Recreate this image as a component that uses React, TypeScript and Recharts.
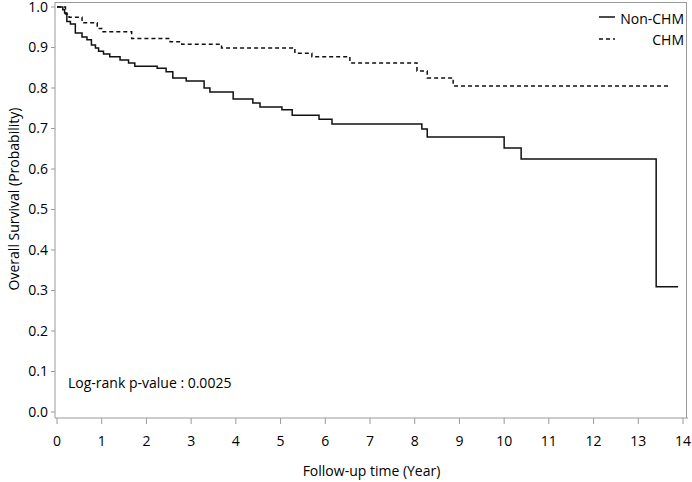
import { LineChart, Line, XAxis, YAxis, Label } from "recharts";

const nonChmTimes = [0, 0.13, 0.17, 0.22, 0.3, 0.41, 0.56, 0.67, 0.77, 0.86, 0.93, 1.04, 1.18, 1.41, 1.6, 1.74, 2.24, 2.44, 2.59, 2.89, 3.29, 3.42, 3.94, 4.38, 4.54, 5.03, 5.26, 5.86, 6.15, 8.16, 8.28, 10.0, 10.38, 13.4, 13.89];
const nonChmSurvival = [1.0, 0.993, 0.985, 0.964, 0.958, 0.936, 0.926, 0.919, 0.906, 0.899, 0.891, 0.884, 0.877, 0.869, 0.862, 0.854, 0.849, 0.84, 0.825, 0.817, 0.8, 0.79, 0.773, 0.763, 0.753, 0.746, 0.733, 0.723, 0.711, 0.699, 0.679, 0.652, 0.625, 0.309, 0.309];

const chmTimes = [0, 0.19, 0.27, 0.56, 0.9, 1.0, 1.67, 2.53, 2.79, 3.68, 5.32, 5.7, 6.55, 8.05, 8.28, 8.86, 13.71];
const chmSurvival = [1.0, 0.983, 0.975, 0.961, 0.947, 0.939, 0.922, 0.914, 0.908, 0.899, 0.886, 0.877, 0.862, 0.842, 0.825, 0.805, 0.805];

const xTicks = [0, 1, 2, 3, 4, 5, 6, 7, 8, 9, 10, 11, 12, 13, 14];
const yTicks = [0, 0.1, 0.2, 0.3, 0.4, 0.5, 0.6, 0.7, 0.8, 0.9, 1.0];

const nonChm = nonChmTimes.map((t, i) => ({ t, s: nonChmSurvival[i] }));
const chm = chmTimes.map((t, i) => ({ t, s: chmSurvival[i] }));

const font = "'Open Sans', sans-serif";
const frame = "#9a9a9a";
const fs = 14;

export default function App() {
  return (
    <div style={{ position: "absolute", left: 0, top: 0, width: 692, height: 482, fontFamily: font }}>
      {/* top and right edges of the plot frame */}
      <div
        style={{
          position: "absolute",
          left: 55,
          top: 2,
          width: 632,
          height: 416,
          borderTop: `1px solid ${frame}`,
          borderRight: `1px solid ${frame}`,
          boxSizing: "border-box",
        }}
      />
      <LineChart width={692} height={482} margin={{ top: 2, right: 4, left: 0, bottom: 0 }}>
        <XAxis
          dataKey="t"
          type="number"
          domain={[0, 14]}
          ticks={xTicks}
          interval={0}
          padding={{ left: 2, right: 5 }}
          height={64}
          tickSize={6}
          tickMargin={12}
          stroke={frame}
          tick={{ fill: "#000", fontSize: fs, fontFamily: font }}
        >
          <Label value="Follow-up time (Year)" position="insideBottom" offset={6} fill="#000" fontSize={fs} fontFamily={font} />
        </XAxis>
        <YAxis
          type="number"
          domain={[0, 1]}
          ticks={yTicks}
          interval={0}
          padding={{ top: 5, bottom: 6 }}
          width={55}
          tickSize={4}
          tickMargin={3}
          stroke={frame}
          tickFormatter={(v: number) => v.toFixed(1)}
          tick={{ fill: "#000", fontSize: fs, fontFamily: font }}
        >
          <Label
            content={() => (
              <text x={13} y={199} transform="rotate(-90 13 199)" textAnchor="middle" dominantBaseline="central" fontSize={fs} fontFamily={font} fill="#000">
                Overall Survival (Probability)
              </text>
            )}
          />
        </YAxis>
        <Line
          data={nonChm}
          dataKey="s"
          type="stepAfter"
          stroke="#111"
          strokeWidth={1.5}
          dot={false}
          isAnimationActive={false}
          name="Non-CHM"
        />
        <Line
          data={chm}
          dataKey="s"
          type="stepAfter"
          stroke="#111"
          strokeWidth={1.5}
          strokeDasharray="4 3"
          dot={false}
          isAnimationActive={false}
          name="CHM"
        />
      </LineChart>
      <svg width={100} height={50} style={{ position: "absolute", left: 597, top: 0 }}>
        <line x1={2} y1={17} x2={18} y2={17} stroke="#111" strokeWidth={1.5} />
        <text x={87} y={18} textAnchor="end" dominantBaseline="central" fontSize={fs} fontFamily={font} fill="#000">
          Non-CHM
        </text>
        <line x1={2} y1={39} x2={18} y2={39} stroke="#111" strokeWidth={1.5} strokeDasharray="4 3" />
        <text x={87} y={39} textAnchor="end" dominantBaseline="central" fontSize={fs} fontFamily={font} fill="#000">
          CHM
        </text>
      </svg>
      <div style={{ position: "absolute", left: 68, top: 374, fontSize: fs, fontFamily: font, color: "#000", whiteSpace: "nowrap", lineHeight: "18px" }}>
        Log-rank p-value : 0.0025
      </div>
    </div>
  );
}
